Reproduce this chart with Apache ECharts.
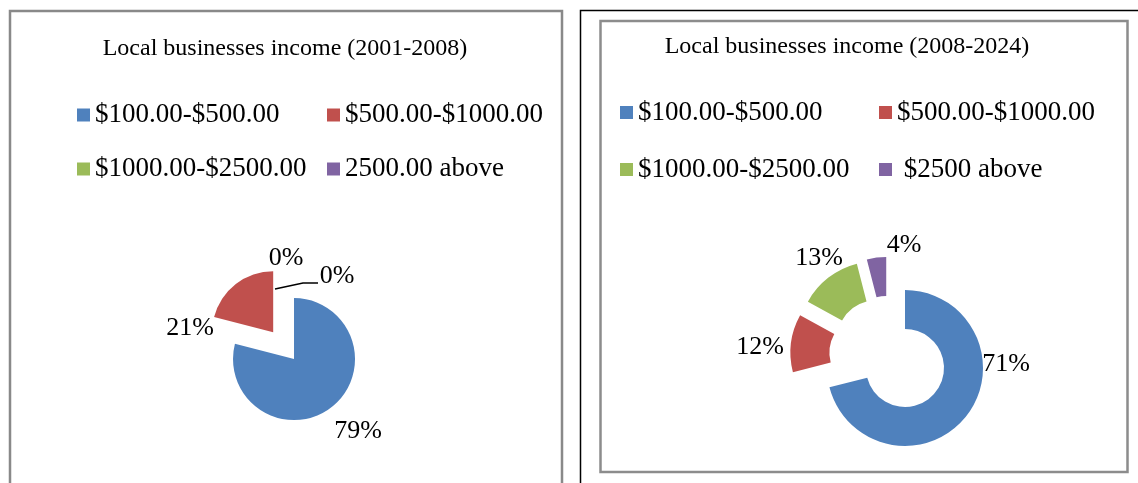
<!DOCTYPE html>
<html>
<head>
<meta charset="utf-8">
<script src="https://cdn.jsdelivr.net/npm/echarts@6/dist/echarts.min.js"></script>
<style>
html, body { margin: 0; padding: 0; background: #fff; }
#chart { width: 1138px; height: 483px; }
</style>
</head>
<body>
<div id="chart"></div>
<script>
// data
var categoriesOld = ['$100.00-$500.00', '$500.00-$1000.00', '$1000.00-$2500.00', '2500.00 above'];
var valuesOld = [79, 21, 0, 0];
var categoriesNew = ['$100.00-$500.00', '$500.00-$1000.00', '$1000.00-$2500.00', ' $2500 above'];
var valuesNew = [71, 12, 13, 4];

var colors = ['#4F81BD', '#C0504D', '#9BBB59', '#8064A2'];
var serif = 'Liberation Serif';

// percent label placement (pixels), the slices are all pulled out so labels are placed by hand
var labelPosOld = [[358, 431], [190, 328], [286, 258], [337, 276]];
var labelPosNew = [[1006, 364], [760, 347], [819, 258], [904, 245]];
var leaderOld = [[275, 289], [303, 283], [318, 283]];

function buildData(names, values) {
    return names.map(function (n, i) {
        return {
            name: n,
            value: values[i],
            selected: true,
            itemStyle: { color: colors[i] }
        };
    });
}

function percentLabels(values, pos) {
    return values.map(function (v, i) {
        return {
            type: 'text',
            x: pos[i][0],
            y: pos[i][1],
            silent: true,
            style: {
                text: v + '%',
                font: '26px "Liberation Serif"',
                fill: '#000',
                align: 'center',
                verticalAlign: 'middle'
            }
        };
    });
}

var legendBase = {
    orient: 'horizontal',
    padding: 0,
    itemGap: 20,
    itemWidth: 13,
    itemHeight: 13,
    icon: 'rect',
    selectedMode: false,
    textStyle: { fontFamily: serif, fontSize: 27, color: '#000', lineHeight: 34, overflow: 'none' }
};

var myChart = echarts.init(document.getElementById('chart'));

var graphics = [
    { type: 'rect', shape: { x: 10, y: 11, width: 552, height: 500 }, style: { fill: 'none', stroke: '#898989', lineWidth: 2.5 } },
    { type: 'rect', shape: { x: 580.5, y: 10.5, width: 580, height: 500 }, style: { fill: 'none', stroke: '#000', lineWidth: 1.5 } },
    { type: 'rect', shape: { x: 600.5, y: 21, width: 527, height: 451 }, style: { fill: 'none', stroke: '#8c8c8c', lineWidth: 2.5 } },
    { type: 'polyline', shape: { points: leaderOld }, style: { fill: 'none', stroke: '#000', lineWidth: 1.5 } }
].concat(percentLabels(valuesOld, labelPosOld), percentLabels(valuesNew, labelPosNew));

var option = {
    animation: false,
    backgroundColor: '#fff',
    graphic: graphics,
    title: [
        { text: 'Local businesses income (2001-2008)', left: 285, top: 36.5, padding: 0, textAlign: 'center',
          textStyle: { fontFamily: serif, fontSize: 24, fontWeight: 'normal', color: '#000' } },
        { text: 'Local businesses income (2008-2024)', left: 847, top: 34.5, padding: 0, textAlign: 'center',
          textStyle: { fontFamily: serif, fontSize: 24, fontWeight: 'normal', color: '#000' } }
    ],
    legend: [
        Object.assign({}, legendBase, {
            data: categoriesOld, left: 77, top: 98, width: 490,
            textStyle: Object.assign({}, legendBase.textStyle, { width: 212 })
        }),
        Object.assign({}, legendBase, {
            data: categoriesNew, left: 620, top: 94, width: 500,
            textStyle: Object.assign({}, legendBase.textStyle, { width: 221, lineHeight: 37 })
        })
    ],
    series: [
        {
            type: 'pie',
            center: [283.6, 345.6],
            radius: 61,
            startAngle: 90,
            clockwise: true,
            selectedMode: 'multiple',
            selectedOffset: 17,
            silent: true,
            itemStyle: { borderWidth: 0 },
            label: { show: false },
            labelLine: { show: false },
            data: buildData(categoriesOld, valuesOld)
        },
        {
            type: 'pie',
            center: [888.8, 355.4],
            radius: [39, 78],
            startAngle: 90,
            clockwise: true,
            selectedMode: 'multiple',
            selectedOffset: 20.5,
            silent: true,
            itemStyle: { borderWidth: 0 },
            label: { show: false },
            labelLine: { show: false },
            data: buildData(categoriesNew, valuesNew)
        }
    ]
};

myChart.setOption(option);
</script>
</body>
</html>
